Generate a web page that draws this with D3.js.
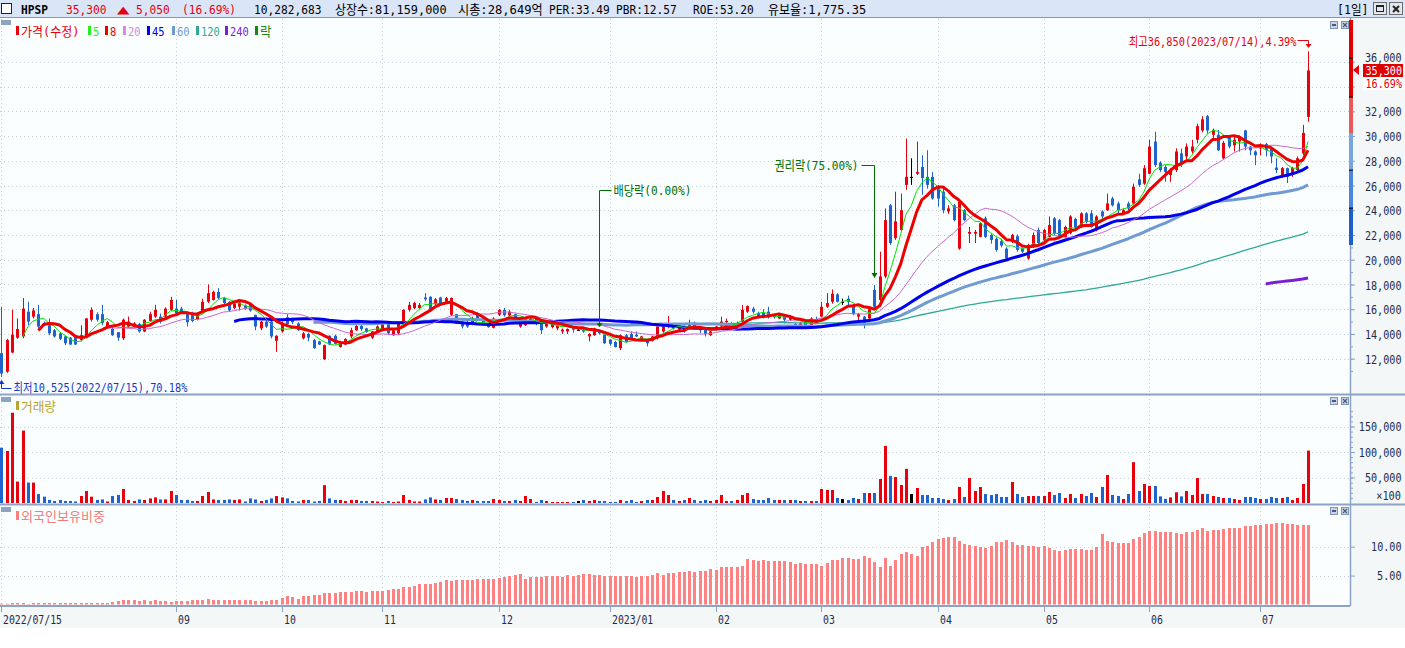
<!DOCTYPE html>
<html>
<head>
<meta charset="utf-8">
<script src="https://cdn.jsdelivr.net/npm/d3@7"></script>
<style>
  body { margin: 0; background: #fff; overflow: hidden; }
  svg { display: block; font-family: "DejaVu Sans Mono", "Noto Sans CJK KR", monospace; font-size: 13px; }
</style>
</head>
<body>
<svg id="chart" width="1405" height="648"></svg>
<script>
/* global d3 */

// ---- data ----

// KRX closed days between the first and last candle
const holidays = ['2022-08-15', '2022-09-09', '2022-09-12', '2022-10-03', '2022-10-10', '2022-12-30',
  '2023-01-23', '2023-01-24', '2023-03-01', '2023-05-01', '2023-05-05', '2023-05-29', '2023-06-06'];

// daily [open, high, low, close], adjusted prices (won)
const ohlc = [
  [12450,16200,10525,10800],[10950,13600,10850,13500],[12500,15950,12450,13950],[13700,15250,13600,14400],[13800,16900,13650,16050],
  [15800,16600,14700,15000],[15400,16100,15250,15900],[15600,16350,14450,14600],[14900,15000,14600,14750],[14700,15250,13900,14050],
  [14300,14400,13700,13800],[14050,14100,13500,13600],[13800,13850,13100,13250],[13700,13750,13100,13150],[13750,13800,13100,13150],
  [13500,14700,13400,13900],[13800,15300,13650,15250],[15150,16150,15000,15950],[15600,15750,15000,15150],[15600,16350,14700,14900],
  [14550,15050,14450,14950],[14400,14600,13850,13900],[14150,14150,13450,13700],[13650,15250,13500,15150],[14600,15400,14500,15000],
  [14600,14950,14500,14850],[14800,14900,14100,14200],[14200,15200,14150,15150],[15050,15800,15000,15600],[15400,16350,15300,15950],
  [15400,15650,14850,15000],[15400,16150,15300,16050],[15950,17000,15850,16750],[16050,16750,15600,15650],[16050,16200,15650,15750],
  [15600,15600,14600,14950],[15700,15800,14950,15050],[15200,15750,15100,15650],[15750,16850,15650,16600],[16600,18000,16500,17300],
  [16750,17500,16700,17400],[17400,17700,16800,16900],[16900,17000,16400,16500],[16600,16650,15800,15900],[16100,16550,16000,16450],
  [16200,16750,15900,16550],[16300,16400,15950,16050],[16350,16500,15800,15900],[15550,15550,14300,14600],[14450,15050,14300,15000],
  [15000,15100,14500,14600],[15000,15050,13650,13800],[13450,13900,12550,13850],[14200,15000,14100,14850],[15350,15600,14600,14800],
  [15200,15300,14800,14950],[14850,14950,14250,14300],[13650,14150,13550,14050],[14000,14100,13400,13700],[13500,13600,12800,12850],
  [13400,13450,13100,13150],[11950,13150,11900,13100],[13850,13900,13100,13150],[13850,13950,13150,13200],[12950,13450,12900,13350],
  [13150,13650,13100,13600],[13800,14500,13650,14300],[14300,14800,14250,14650],[14650,14850,14250,14400],[14450,14500,14100,14150],
  [13700,14250,13600,14200],[14200,14700,14100,14600],[14400,14850,14350,14800],[14800,14900,14000,14050],[13900,14400,13850,14300],
  [14050,15000,13900,14850],[14850,16000,14800,15950],[15950,16600,15800,16350],[16100,16600,16000,16500],[16100,16500,16000,16350],
  [16950,17300,16650,16800],[17000,17050,15850,15950],[16400,16900,16300,16800],[16950,17000,16350,16400],[16600,17000,16500,16900],
  [15550,16950,15450,16900],[15600,15600,14800,14850],[15000,15100,14450,14600],[14950,15050,14500,14600],[14750,15400,14700,15300],
  [15650,15750,15150,15250],[15250,15300,14700,14800],[14850,14900,14500,14550],[14500,15350,14450,15250],[15550,16000,15450,15950],
  [15950,16100,15400,15500],[15500,15950,15400,15800],[15600,15650,15000,15050],[14600,15100,14500,15050],[14700,15300,14650,15250],
  [15000,15300,14900,15200],[15250,15300,14700,14800],[14950,15050,14000,14300],[14600,14950,14500,14850],[14550,14900,14450,14800],
  [14450,14700,14300,14650],[14200,14450,14000,14350],[14200,14450,14000,14400],[14500,14550,14100,14350],[14350,14500,14250,14350],
  [14350,14400,14100,14200],[13800,14050,13400,14000],[13900,14500,13850,14450],[14200,14300,13950,14050],[13950,13950,13200,13250],
  [13550,13600,13050,13200],[13350,13450,12900,12950],[12850,13950,12700,13900],[13900,14000,13300,13350],[14000,14200,13600,13650],
  [13950,14200,13750,13800],[13550,13850,13500,13800],[13550,13600,13000,13250],[13450,13850,13400,13800],[13650,14600,13550,14600],
  [14200,14700,14100,14600],[14550,15450,14450,14800],[14700,14750,14350,14450],[14350,14650,14250,14600],[14600,14700,14100,14200],
  [14600,15150,14500,14850],[14900,15000,14400,14450],[14600,14650,14050,14300],[14450,14500,13800,14000],[13900,14250,13850,14200],
  [14400,14650,14300,14600],[14600,15400,14500,15000],[14950,15250,14900,15050],[14850,14950,14550,14600],[14600,15000,14500,14900],
  [15000,16350,14900,15950],[15800,16300,15700,16250],[16050,16200,15650,15800],[15700,15800,15250,15350],[15700,16000,15250,15400],
  [15800,16200,15250,15350],[15550,15600,15250,15350],[15250,15600,15200,15550],[15550,15600,14850,15150],[15150,15500,15050,15400],
  [14800,14900,14400,14450],[14600,14950,14500,14850],[15000,15100,14500,14600],[14600,15350,14500,15250],[15200,15400,14850,14900],
  [15400,16600,15350,16200],[16200,17300,16100,16500],[16600,17600,16450,17250],[17200,17300,16550,16600],[16600,16850,16350,16600],
  [16850,17100,16330,16600],[16350,16400,15500,15600],[15400,15700,15000,15600],[15400,15450,14450,14850],[15250,16100,15100,16000],
  [17550,17950,16150,16200],[16750,20650,16650,18650],[18650,24150,18500,23200],[24400,24500,21200,21350],[21750,25500,21600,23100],
  [22400,25350,22300,24000],[26050,29800,25650,26700],[26700,28200,26050,26700],[26950,29550,26850,27100],[27500,28450,25250,26600],
  [26700,28850,25750,26050],[26700,27100,24850,24950],[25900,26050,24300,24950],[25500,25900,23750,24000],[23900,24400,23700,24150],
  [24400,24500,23100,23200],[20900,24800,20800,24700],[24000,24100,23100,23200],[22100,22650,21350,22250],[22100,22400,21350,22250],
  [21850,23000,21800,22950],[23350,23500,21750,21850],[22000,22100,21300,21600],[21700,21800,20650,20800],[21500,21700,21000,21150],
  [20900,21000,20000,20100],[21450,22100,21350,22000],[21900,22050,20650,20800],[20900,21000,20550,20650],[20100,21300,20000,21200],
  [21050,22200,20950,22000],[22400,22600,21200,21350],[21600,22500,21500,22400],[21850,23500,21800,22800],[23350,23450,22000,22150],
  [23200,23300,21750,21850],[21850,22750,21800,22650],[22150,23600,22050,23500],[23300,23400,22450,22600],[22650,23850,22550,23750],
  [23750,23850,22950,23050],[23750,24000,22600,22650],[22400,23600,22300,23500],[23900,24000,23350,23500],[24000,25350,23950,24550],
  [24950,25100,24300,24400],[24550,24700,23750,24000],[23750,24150,23600,24000],[24550,24700,24000,24150],[24550,26150,24450,25900],
  [26500,26950,25900,26050],[26150,27650,26050,27400],[26950,29700,26900,29150],[29550,30350,27500,27650],[27850,27950,27100,27250],
  [27500,27650,26300,27100],[26850,27400,26300,27250],[27250,29000,27100,28750],[28600,29000,27500,27650],[28350,29400,27950,29150],
  [28750,29700,28600,29150],[29700,31000,29400,30800],[30450,31600,30300,31350],[31600,31700,30200,30450],[30100,30600,29700,30500],
  [30100,30500,28800,28850],[28200,29600,28100,29450],[29950,30000,29000,29150],[29250,29950,28750,29700],[29550,30050,28750,29950],
  [30450,30500,28850,29150],[29150,29200,28450,28850],[28750,28850,27650,28450],[29000,29400,28450,29200],[29350,29450,28350,28850],
  [29100,29150,27800,28350],[27450,28200,27000,27250],[26700,27500,26600,27400],[27400,27450,26200,26700],[27000,27500,26700,27400],
  [27250,28350,27100,28200],[28600,30900,28450,30250],[31550,36850,31150,35300]
];

// daily volume, thousand shares
const volumeK = [
  10840,10200,17700,4200,14200,4000,4000,1760,1240,600,
  400,600,400,400,300,1370,2350,1240,600,700,
  300,1370,1570,2750,600,400,700,600,900,1100,
  700,700,2350,1570,600,600,400,400,1370,2150,
  700,600,600,700,600,700,300,900,700,400,
  600,900,1370,1100,900,400,300,600,600,300,
  400,3500,900,600,600,400,600,600,400,400,
  400,300,200,400,200,300,1570,600,300,300,
  700,1100,700,590,980,980,780,590,390,590,
  390,390,390,780,590,390,390,590,390,1370,
  780,200,590,390,200,200,200,200,200,390,
  590,390,590,390,390,200,200,590,390,590,
  200,390,590,590,1180,2350,1570,590,390,590,
  980,590,390,590,390,590,1570,390,390,590,
  1570,1960,780,590,590,980,590,590,590,590,
  590,390,390,390,390,2750,2550,2550,980,780,
  590,980,780,1960,1960,1960,4700,11200,5300,5100,
  3530,6700,1760,2940,1570,1570,980,980,780,590,
  780,3140,1180,4900,2350,3140,1760,1570,1760,1180,
  1180,4120,1760,1180,1370,1370,1370,1370,2160,1570,
  1960,980,1760,980,1760,1370,1960,1180,3140,5500,
  1570,1370,780,1760,8000,2350,3720,3330,3330,1300,
  800,1100,2100,1300,2350,1570,4900,1760,1760,1370,
  1180,980,980,780,590,1180,1180,980,780,780,
  1180,980,980,1180,590,980,3720,10283
];

// foreign ownership ratio, %
const foreignPct = [
  0.14,0.14,0.26,0.26,0.26,0.09,0.26,0.26,0.26,0.26,
  0.26,0.26,0.26,0.26,0.26,0.26,0.26,0.26,0.26,0.26,
  0.26,0.43,0.6,0.78,0.78,0.78,0.6,0.78,0.6,0.78,
  0.6,0.6,0.43,0.6,0.6,0.6,0.78,0.78,0.78,0.95,
  0.78,0.78,0.78,0.78,0.78,0.78,0.78,0.78,0.6,0.6,
  0.6,0.78,0.78,1.12,1.47,1.3,0.95,1.47,1.47,1.64,
  1.64,1.99,1.99,1.99,2.16,2.16,2.16,2.34,2.34,2.16,
  2.34,2.34,2.34,2.51,2.68,2.68,3.03,3.03,3.2,3.55,
  3.55,3.55,3.72,3.89,4.24,4.07,4.24,4.24,4.24,4.24,
  4.41,4.41,4.41,4.41,4.59,4.76,4.93,5.1,5.28,4.41,
  4.76,4.76,4.76,4.93,4.93,4.93,4.76,5.1,4.93,5.1,
  5.28,5.28,5.1,5.1,4.93,4.93,4.93,4.93,4.93,4.93,
  4.76,4.93,4.93,5.1,5.45,5.1,5.45,5.45,5.62,5.62,
  5.8,5.62,5.8,5.8,6.14,5.97,6.49,6.49,6.49,6.49,
  6.66,7.87,7.7,7.53,7.7,7.53,7.53,7.53,7.53,7.35,
  7.01,7.18,7.01,7.01,7.01,6.66,7.18,7.7,7.7,8.04,
  8.04,7.87,7.87,8.39,8.04,7.35,6.49,8.04,6.66,7.7,
  8.74,9.08,8.74,8.39,9.95,10.12,10.81,11.33,11.5,11.68,
  11.68,10.99,10.47,10.29,10.12,9.95,9.77,10.12,10.81,10.81,
  11.16,10.81,10.29,10.29,10.12,10.12,9.95,10.12,9.77,9.43,
  9.25,9.43,9.6,9.6,9.6,9.43,9.43,9.95,12.2,10.99,
  10.81,10.64,10.64,10.64,11.33,11.68,12.37,12.72,12.72,12.54,
  12.54,12.54,12.37,12.2,12.54,12.54,12.89,13.24,12.72,12.89,
  12.89,13.06,13.24,13.24,13.24,13.58,13.58,13.75,13.75,13.93,
  13.93,14.1,14.1,13.93,13.93,13.75,13.75,13.75
];

// moving averages shown in the legend
const maPeriods = [5, 8, 20, 45, 60, 120, 240];
const maColors = ['#00e400', '#ee0000', '#cc66cc', '#0000ee', '#6f9bd2', '#2fa898', '#7b1fd6'];
const maWidths = [1, 3, 1, 3, 3, 1.3, 3];
const legendX = [88, 105, 123, 147, 172, 196, 225];

// header numbers
const headerItems = [
  ['HPSP', 21, '#000'], ['35,300', 66, '#e00010'], ['▲', 117, '#e00010'], ['5,050', 136, '#e00010'],
  ['(16.69%)', 182, '#e00010'], ['10,282,683', 254, '#000'], ['상장수:81,159,000', 335, '#000'],
  ['시총:28,649억', 458, '#000'], ['PER:33.49', 549, '#000'], ['PBR:12.57', 616, '#000'],
  ['ROE:53.20', 693, '#000'], ['유보율:1,775.35', 768, '#000']
];

// price-event markers (index of candle, label)
const events = [
  { idx: 113, label: '배당락(0.00%)' },
  { idx: 165, label: '권리락(75.00%)' }
];

// ---- layout settings ----
const config = {
  plotRight: 1350,
  price: { top: 18, bottom: 394 },
  volume: { top: 395, bottom: 504 },
  foreign: { top: 505, bottom: 606 },
  axisBand: 628,
};

const red = '#e8000c';
const blue = '#1f63cf';
const axisColor = '#8ca3c6';
const textNavy = '#1c2a4c';
const gridColor = '#c4ccd6';

// squeeze text horizontally to the narrow bitmap-font cells of the original
// (half-width ascii, full-width hangul) with a plain scale transform
function fitText(sel, asciiW, wideW) {
  sel.each(function () {
    const el = d3.select(this);
    el.attr('letter-spacing', 0);
    let w = 0;
    for (const ch of this.textContent) w += ch.charCodeAt(0) > 0x1100 ? wideW : asciiW;
    const natural = this.getComputedTextLength();
    if (!w || !natural) return;
    const tx = +el.attr('x') || 0;
    const ty = +el.attr('y') || 0;
    const prev = el.attr('transform') || '';
    el.attr('x', 0).attr('y', 0)
      .attr('transform', `${prev} translate(${tx},${ty}) scale(${(w / natural).toFixed(4)},1)`);
  });
}

// trading days from the calendar, skipping weekends and holidays
const fmtDay = d3.timeFormat('%Y-%m-%d');
const dates = d3.timeDay.range(new Date(2022, 6, 15), new Date(2023, 6, 15))
  .filter(d => d.getDay() !== 0 && d.getDay() !== 6 && !holidays.includes(fmtDay(d)))
  .slice(0, ohlc.length);

const n = ohlc.length;
const closes = ohlc.map(d => d[3]);

// scales
const x = d3.scaleLinear().domain([0, n - 1]).range([1.4, 1308]);
const yPrice = d3.scaleLinear().domain([12000, 36000]).range([358.7, 61.8]);
const yVol = d3.scaleLinear().domain([0, 150000]).range([503, 426.5]); // x100 shares
const yFor = d3.scaleLinear().domain([0, 10]).range([604.5, 546.7]);

const px = i => Math.round(x(i));

function candleColor(d) {
  if (d[3] > d[0]) return red;
  if (d[3] < d[0]) return blue;
  return '#000';
}

function movingAverage(period) {
  const out = [];
  for (let i = period - 1; i < n; i++) {
    out.push({ i, v: d3.mean(closes.slice(i - period + 1, i + 1)) });
  }
  return out;
}

// month ticks (skip the one that would collide with the first label)
const monthTicks = [0];
for (let i = 1; i < n; i++) {
  if (dates[i].getMonth() !== dates[i - 1].getMonth() && x(i) > 80) monthTicks.push(i);
}
function monthLabel(i) {
  if (i === 0) return d3.timeFormat('%Y/%m/%d')(dates[i]);
  if (dates[i].getMonth() === 0) return d3.timeFormat('%Y/%m')(dates[i]);
  return d3.timeFormat('%m')(dates[i]);
}

const svg = d3.select('#chart');

// ---- backgrounds ----
svg.append('rect').attr('width', 1405).attr('height', 648).attr('fill', '#fff');
svg.append('rect').attr('x', 0).attr('y', config.price.top).attr('width', config.plotRight)
  .attr('height', config.foreign.bottom - config.price.top).attr('fill', '#fbfefe');
svg.append('rect').attr('x', config.plotRight).attr('y', config.price.top).attr('width', 1405 - config.plotRight)
  .attr('height', config.foreign.bottom - config.price.top).attr('fill', '#f4f7f8');
svg.append('rect').attr('x', 0).attr('y', config.foreign.bottom).attr('width', 1405)
  .attr('height', config.axisBand - config.foreign.bottom).attr('fill', '#f4f7f8');

// ---- header ----
const header = svg.append('g');
header.append('rect').attr('width', 1405).attr('height', 17).attr('fill', '#dae6f7');
header.append('line').attr('x1', 0).attr('x2', 1405).attr('y1', 17.5).attr('y2', 17.5)
  .attr('stroke', '#7f97c2').attr('stroke-width', 1);
header.append('rect').attr('x', 1.5).attr('y', 3.5).attr('width', 10).attr('height', 10)
  .attr('fill', '#fff').attr('stroke', '#222');
header.selectAll('text.item').data(headerItems).enter().append('text')
  .attr('class', 'item')
  .attr('x', d => d[1]).attr('y', 14)
  .attr('fill', d => d[2])
  .attr('font-weight', (d, i) => (i === 0 ? 'bold' : null))
  .text(d => d[0])
  .call(fitText, 6.75, 12.5);
header.append('text').attr('x', 1337).attr('y', 14).attr('fill', '#000').text('[1일]')
  .call(fitText, 6.5, 12);
[1373, 1389].forEach((bx, k) => {
  header.append('rect').attr('x', bx + 0.5).attr('y', 2.5).attr('width', 13).attr('height', 12)
    .attr('fill', '#e3e7ee').attr('stroke', '#6d6d6d');
  if (k === 0) {
    header.append('rect').attr('x', bx + 3.5).attr('y', 5.5).attr('width', 7).attr('height', 6)
      .attr('fill', 'none').attr('stroke', '#222');
    header.append('rect').attr('x', bx + 3.5).attr('y', 5).attr('width', 7).attr('height', 2).attr('fill', '#222');
  } else {
    header.append('path').attr('d', `M${bx + 4},6L${bx + 10},12M${bx + 10},6L${bx + 4},12`)
      .attr('stroke', '#222').attr('stroke-width', 2);
  }
});

// ---- grid ----
const grid = svg.append('g').attr('stroke', gridColor).attr('stroke-dasharray', '1,3');
grid.selectAll('line.v').data(monthTicks).enter().append('line')
  .attr('x1', i => px(i) + 0.5).attr('x2', i => px(i) + 0.5)
  .attr('y1', config.price.top + 1).attr('y2', config.foreign.bottom);
grid.selectAll('line.hp').data(d3.range(12000, 36001, 2000)).enter().append('line')
  .attr('x1', 0).attr('x2', config.plotRight)
  .attr('y1', d => Math.round(yPrice(d)) + 0.5).attr('y2', d => Math.round(yPrice(d)) + 0.5);
grid.selectAll('line.hv').data([50000, 100000, 150000]).enter().append('line')
  .attr('x1', 0).attr('x2', config.plotRight)
  .attr('y1', d => Math.round(yVol(d)) + 0.5).attr('y2', d => Math.round(yVol(d)) + 0.5);
grid.selectAll('line.hf').data([5, 10]).enter().append('line')
  .attr('x1', 0).attr('x2', config.plotRight)
  .attr('y1', d => Math.round(yFor(d)) + 0.5).attr('y2', d => Math.round(yFor(d)) + 0.5);

// ---- price panel ----
svg.append('clipPath').attr('id', 'priceClip').append('rect')
  .attr('x', 0).attr('y', config.price.top).attr('width', config.plotRight)
  .attr('height', config.price.bottom - config.price.top);
const pricePanel = svg.append('g').attr('clip-path', 'url(#priceClip)');

const candles = pricePanel.selectAll('g.candle').data(ohlc).enter().append('g').attr('class', 'candle');
candles.append('line')
  .attr('x1', (d, i) => px(i) + 0.5).attr('x2', (d, i) => px(i) + 0.5)
  .attr('y1', d => yPrice(d[1])).attr('y2', d => yPrice(d[2]))
  .attr('stroke', candleColor).attr('stroke-width', 1);
candles.append('rect')
  .attr('x', (d, i) => px(i) - 1).attr('width', 3)
  .attr('y', d => yPrice(Math.max(d[0], d[3])))
  .attr('height', d => Math.max(1.2, yPrice(Math.min(d[0], d[3])) - yPrice(Math.max(d[0], d[3]))))
  .attr('fill', candleColor);

const maLine = d3.line().x(d => x(d.i)).y(d => yPrice(d.v));
[5, 4, 6, 3, 2, 0, 1].forEach(k => {
  pricePanel.append('path')
    .datum(movingAverage(maPeriods[k]))
    .attr('d', maLine)
    .attr('fill', 'none')
    .attr('stroke', maColors[k])
    .attr('stroke-width', maWidths[k])
    .attr('stroke-linejoin', 'round');
});

// event markers (배당락 / 권리락)
const evGreen = '#006e00';
{
  const e = events[0];
  const ex = px(e.idx) + 0.5;
  const yTop = 190.5;
  const yEnd = yPrice(ohlc[e.idx][1]) - 4;
  pricePanel.append('path').attr('d', `M${ex + 12},${yTop}H${ex}V${yEnd}`)
    .attr('fill', 'none').attr('stroke', evGreen).attr('stroke-width', 1);
  pricePanel.append('path').attr('d', `M${ex - 3},${yEnd - 3}L${ex + 3},${yEnd - 3}L${ex},${yEnd + 1}Z`).attr('fill', evGreen);
  pricePanel.append('text').attr('x', ex + 14).attr('y', yTop + 4.5)
    .attr('fill', evGreen).text(e.label).call(fitText, 6, 12);
}
{
  const e = events[1];
  const ex = px(e.idx) + 0.5;
  const yTop = 165.5;
  const yEnd = 277;
  pricePanel.append('path').attr('d', `M${ex - 13},${yTop}H${ex}V${yEnd}`)
    .attr('fill', 'none').attr('stroke', evGreen).attr('stroke-width', 1);
  pricePanel.append('path').attr('d', `M${ex - 3},${yEnd - 4}L${ex + 3},${yEnd - 4}L${ex},${yEnd + 1}Z`).attr('fill', evGreen);
  pricePanel.append('text').attr('x', ex - 16).attr('y', yTop + 4.5)
    .attr('text-anchor', 'end').attr('fill', evGreen).text(e.label).call(fitText, 6, 12);
}

// high / low annotations
const hiIdx = d3.maxIndex(ohlc, d => d[1]);
const loIdx = d3.minIndex(ohlc, d => d[2]);
const last = ohlc[n - 1];
const fmt = d3.format(',');
const pctFmt = v => d3.format('.2f')(v) + '%';
{
  const hx = px(hiIdx) + 0.5;
  pricePanel.append('path').attr('d', `M${hx - 11},40.5H${hx}V46`)
    .attr('fill', 'none').attr('stroke', red).attr('stroke-width', 1);
  pricePanel.append('path').attr('d', `M${hx - 3},44L${hx + 3},44L${hx},48Z`).attr('fill', red);
  pricePanel.append('text').attr('x', hx - 12).attr('y', 46).attr('text-anchor', 'end').attr('fill', red)
    .text(`최고${fmt(ohlc[hiIdx][1])}(${d3.timeFormat('%Y/%m/%d')(dates[hiIdx])}),${pctFmt((ohlc[hiIdx][1] - last[3]) / last[3] * 100)}`)
    .call(fitText, 6, 12);

  const lx = px(loIdx) + 0.5;
  pricePanel.append('path').attr('d', `M${lx},383V388.5H${lx + 10}`)
    .attr('fill', 'none').attr('stroke', '#1238c8').attr('stroke-width', 1);
  pricePanel.append('path').attr('d', `M${lx - 3},384L${lx + 3},384L${lx},380Z`).attr('fill', '#1238c8');
  pricePanel.append('text').attr('x', lx + 12).attr('y', 391.5).attr('fill', '#1238c8')
    .text(`최저${fmt(ohlc[loIdx][2])}(${d3.timeFormat('%Y/%m/%d')(dates[loIdx])}),${pctFmt((last[3] - ohlc[loIdx][2]) / last[3] * 100)}`)
    .call(fitText, 6, 12);
}

// legend
const legend = svg.append('g');
legend.append('rect').attr('x', 1).attr('y', 20).attr('width', 10).attr('height', 5).attr('fill', '#8ea2c2');
const legendItems = [['가격(수정)', red, 16]]
  .concat(maPeriods.map((p, k) => [String(p), maColors[k], legendX[k]]))
  .concat([['락', '#138a13', 255]]);
legendItems[1][1] = '#22ee22';
legendItems[3][1] = '#d48ae0';
legendItems.forEach(([t, c, lx]) => {
  legend.append('rect').attr('x', lx).attr('y', 26).attr('width', 3).attr('height', 9).attr('fill', c);
  legend.append('text').attr('x', lx + 5).attr('y', 35.5).attr('fill', c).text(t).call(fitText, 6.3, 11.5);
});

// ---- volume panel ----
const volPanel = svg.append('g');
volPanel.selectAll('rect.vol').data(volumeK).enter().append('rect')
  .attr('class', 'vol')
  .attr('x', (d, i) => px(i) - 1).attr('width', 3)
  .attr('y', d => yVol(d * 10)).attr('height', d => yVol(0) - yVol(d * 10))
  .attr('fill', (d, i) => candleColor(ohlc[i]));
volPanel.append('rect').attr('x', 1).attr('y', 397).attr('width', 10).attr('height', 5).attr('fill', '#8ea2c2');
volPanel.append('rect').attr('x', 16).attr('y', 401).attr('width', 3).attr('height', 9).attr('fill', '#b8a52e');
volPanel.append('text').attr('x', 21).attr('y', 410.5).attr('fill', '#b8a52e').text('거래량').call(fitText, 6, 11.7);

// ---- foreign ownership panel ----
const forPanel = svg.append('g');
forPanel.selectAll('rect.fr').data(foreignPct).enter().append('rect')
  .attr('class', 'fr')
  .attr('x', (d, i) => px(i) - 1).attr('width', 3)
  .attr('y', d => yFor(d)).attr('height', d => yFor(0) - yFor(d))
  .attr('fill', '#ff8282');
forPanel.append('rect').attr('x', 1).attr('y', 507).attr('width', 10).attr('height', 5).attr('fill', '#8ea2c2');
forPanel.append('rect').attr('x', 16).attr('y', 511).attr('width', 3).attr('height', 9).attr('fill', '#f58080');
forPanel.append('text').attr('x', 21).attr('y', 520.5).attr('fill', '#f07c7c').text('외국인보유비중').call(fitText, 6, 12);

// panel buttons (minimise / close)
[21, 397, 507].forEach(by => {
  [1330, 1341].forEach((bx, k) => {
    svg.append('rect').attr('x', bx + 0.5).attr('y', by + 0.5).attr('width', 7).attr('height', 7)
      .attr('fill', '#c9d4e6').attr('stroke', '#8094b8');
    if (k === 0) {
      svg.append('rect').attr('x', bx + 2).attr('y', by + 3).attr('width', 4).attr('height', 2).attr('fill', '#4a5a7a');
    } else {
      svg.append('path').attr('d', `M${bx + 2},${by + 2}L${bx + 6},${by + 6}M${bx + 6},${by + 2}L${bx + 2},${by + 6}`)
        .attr('stroke', '#4a5a7a').attr('stroke-width', 1.2);
    }
  });
});

// ---- panel borders ----
const borders = svg.append('g').attr('stroke', axisColor);
borders.append('line').attr('x1', 0).attr('x2', 1405).attr('y1', 394.5).attr('y2', 394.5).attr('stroke-width', 2);
borders.append('line').attr('x1', 0).attr('x2', 1405).attr('y1', 504.5).attr('y2', 504.5).attr('stroke-width', 2);
borders.append('line').attr('x1', 0).attr('x2', config.plotRight).attr('y1', 606).attr('y2', 606).attr('stroke-width', 2);
borders.append('line').attr('x1', config.plotRight + 0.5).attr('x2', config.plotRight + 0.5)
  .attr('y1', 18).attr('y2', 606).attr('stroke-width', 1.5);

// ---- right axes ----
function styleAxis(g) {
  g.select('.domain').remove();
  g.attr('font-family', null).attr('font-size', 13);
  g.selectAll('.tick line').attr('stroke', axisColor);
  g.selectAll('.tick text').attr('x', 51.5).attr('text-anchor', 'end').attr('fill', textNavy)
    .call(fitText, 6.1, 12);
}

const priceAxisMinor = svg.append('g').attr('transform', `translate(${config.plotRight},0)`)
  .call(d3.axisRight(yPrice).tickValues(d3.range(11000, 37001, 1000)).tickSize(3).tickFormat(''));
styleAxis(priceAxisMinor);
// 34,000 sits under the change-rate box, as in the original
const priceAxis = svg.append('g').attr('transform', `translate(${config.plotRight},0)`)
  .call(d3.axisRight(yPrice).tickValues(d3.range(12000, 36001, 2000)).tickSize(5)
    .tickFormat(d => (d === 34000 ? '' : fmt(d))));
priceAxis.selectAll('.tick text').attr('dy', d => (d === 36000 ? '-0.05em' : '0.36em'));
styleAxis(priceAxis);

const volAxisMinor = svg.append('g').attr('transform', `translate(${config.plotRight},0)`)
  .call(d3.axisRight(yVol).tickValues(d3.range(10000, 180001, 10000)).tickSize(3).tickFormat(''));
styleAxis(volAxisMinor);
const volAxis = svg.append('g').attr('transform', `translate(${config.plotRight},0)`)
  .call(d3.axisRight(yVol).tickValues([50000, 100000, 150000]).tickSize(5).tickFormat(fmt));
styleAxis(volAxis);
svg.append('text').attr('x', 1401).attr('y', 500).attr('text-anchor', 'end')
  .attr('fill', textNavy).text('×100').call(fitText, 6.2, 12);

const forAxis = svg.append('g').attr('transform', `translate(${config.plotRight},0)`)
  .call(d3.axisRight(yFor).tickValues([5, 10]).tickSize(5).tickFormat(d3.format('.2f')));
styleAxis(forAxis);

// colour band along the price axis
const bandSegments = [[20, 58, '#e00000'], [58, 97, '#e00000'], [97, 133, '#e85a5a'],
  [133, 170, '#78a4e0'], [170, 208, '#4a86da'], [208, 245, '#1f5fc8']];
bandSegments.forEach(([y0, y1, c]) => {
  svg.append('rect').attr('x', 1349).attr('y', y0).attr('width', 4).attr('height', y1 - y0).attr('fill', c);
});
[58, 97, 170, 208].forEach(yb => {
  svg.append('rect').attr('x', 1349).attr('y', yb - 0.5).attr('width', 4).attr('height', 1.2).attr('fill', '#111');
});

// current price marker
{
  const cy = Math.round(yPrice(last[3]));
  svg.append('path').attr('d', `M1353,${cy}L1359,${cy - 5}L1359,${cy + 5}Z`).attr('fill', red);
  svg.append('rect').attr('x', 1363).attr('y', cy - 6).attr('width', 40).attr('height', 13).attr('fill', '#e00000');
  svg.append('text').attr('x', 1402).attr('y', cy + 5).attr('text-anchor', 'end').attr('font-size', 12)
    .attr('fill', '#fff').text(fmt(last[3])).call(fitText, 6.1, 12);
  svg.append('rect').attr('x', 1363).attr('y', cy + 7).attr('width', 40).attr('height', 13).attr('fill', '#fff');
  const prev = ohlc[n - 2][3];
  svg.append('text').attr('x', 1402).attr('y', cy + 18).attr('text-anchor', 'end').attr('font-size', 12)
    .attr('fill', red).text(pctFmt((last[3] - prev) / prev * 100)).call(fitText, 6.1, 12);
}

// ---- x axis ----
const xAxis = svg.append('g').attr('transform', `translate(0,${config.foreign.bottom + 1})`)
  .call(d3.axisBottom(x).tickValues(monthTicks).tickSize(5).tickFormat(monthLabel));
xAxis.select('.domain').remove();
xAxis.attr('font-family', null).attr('font-size', 13);
xAxis.selectAll('.tick line').attr('stroke', axisColor).attr('transform', 'translate(0.5,0)');
xAxis.selectAll('.tick').attr('transform', i => `translate(${px(i)},0)`);
xAxis.selectAll('.tick text').attr('text-anchor', 'start').attr('x', 2).attr('y', 6).attr('dy', '0.85em')
  .attr('fill', textNavy).call(fitText, 5.9, 12);
</script>
</body>
</html>
